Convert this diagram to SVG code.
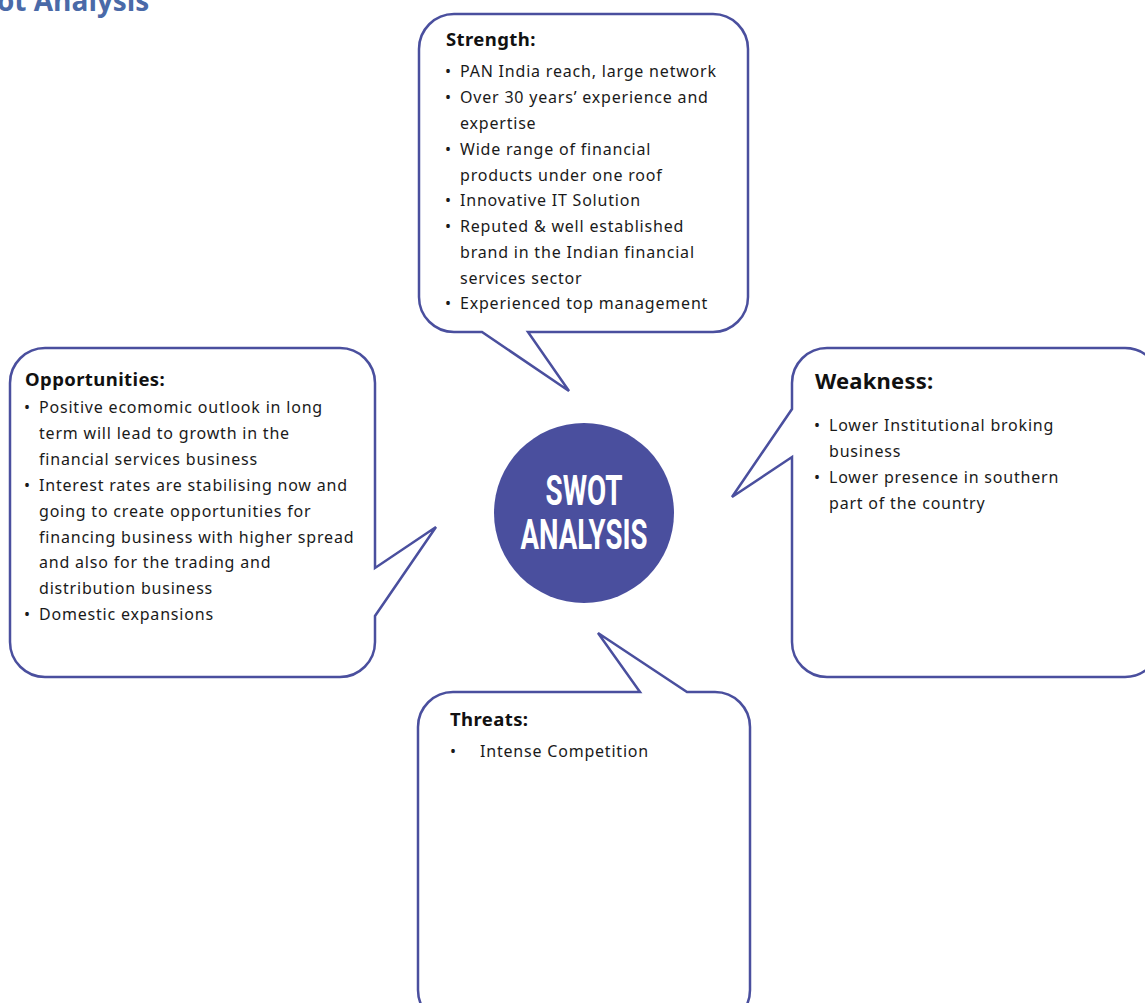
<svg xmlns="http://www.w3.org/2000/svg" width="1145" height="1003" viewBox="0 0 1145 1003">
<style>
.callout{fill:#fff;stroke:#4a4f9e;stroke-width:2.5;stroke-linejoin:miter}
.hd{font-family:"Noto Sans","Open Sans",sans-serif;font-weight:bold;font-size:18.5px;fill:#111;letter-spacing:0.4px}
.tx{font-family:"Noto Sans","Open Sans",sans-serif;font-size:16px;fill:#1a1a1a;letter-spacing:0.8px}
.title{font-family:"Open Sans","Noto Sans",sans-serif;font-weight:bold;font-size:28px;fill:#4a6aa8}
.swot{font-family:Roboto,"Liberation Sans",sans-serif;font-weight:bold;font-size:42px;fill:#fff}
</style>
<rect width="1145" height="1003" fill="#fff"/>
<text class="title" x="-3" y="11">ot Analysis</text>
<g id="connectors"></g>
<g id="strength">
<path class="callout" d="M454,14 H713 A35,35 0 0 1 748,49 V297 A35,35 0 0 1 713,332 H528 L569,391 L482,332 H454 A35,35 0 0 1 419,297 V49 A35,35 0 0 1 454,14 Z"/>
<text class="hd" x="446" y="46">Strength:</text>
<g class="tx">
<text x="445" y="77">•</text><text x="460" y="77">PAN India reach, large network</text>
<text x="445" y="103">•</text><text x="460" y="103">Over 30 years’ experience and</text>
<text x="460" y="129">expertise</text>
<text x="445" y="155">•</text><text x="460" y="155">Wide range of financial</text>
<text x="460" y="181">products under one roof</text>
<text x="445" y="206">•</text><text x="460" y="206">Innovative IT Solution</text>
<text x="445" y="232">•</text><text x="460" y="232">Reputed &amp; well established</text>
<text x="460" y="258">brand in the Indian financial</text>
<text x="460" y="284">services sector</text>
<text x="445" y="309">•</text><text x="460" y="309">Experienced top management</text>
</g>
</g>
<g id="opportunities">
<path class="callout" d="M45,348 H340 A35,35 0 0 1 375,383 V568 L436,527 L375,616 V642 A35,35 0 0 1 340,677 H45 A35,35 0 0 1 10,642 V383 A35,35 0 0 1 45,348 Z"/>
<text class="hd" x="25" y="386">Opportunities:</text>
<g class="tx">
<text x="24" y="413">•</text><text x="39" y="413">Positive ecomomic outlook in long</text>
<text x="39" y="439">term will lead to growth in the</text>
<text x="39" y="465">financial services business</text>
<text x="24" y="491">•</text><text x="39" y="491">Interest rates are stabilising now and</text>
<text x="39" y="517">going to create opportunities for</text>
<text x="39" y="543">financing business with higher spread</text>
<text x="39" y="568">and also for the trading and</text>
<text x="39" y="594">distribution business</text>
<text x="24" y="620">•</text><text x="39" y="620">Domestic expansions</text>
</g>
</g>
<g id="weakness">
<path class="callout" d="M827,348 H1125 A35,35 0 0 1 1160,383 V642 A35,35 0 0 1 1125,677 H827 A35,35 0 0 1 792,642 V457 L732,497 L792,409 V383 A35,35 0 0 1 827,348 Z"/>
<text class="hd" x="815" y="389" style="font-size:22px;letter-spacing:0.2px">Weakness:</text>
<g class="tx">
<text x="814" y="431">•</text><text x="829" y="431">Lower Institutional broking</text>
<text x="829" y="457">business</text>
<text x="814" y="483">•</text><text x="829" y="483">Lower presence in southern</text>
<text x="829" y="509">part of the country</text>
</g>
</g>
<g id="threats">
<path class="callout" d="M453,692 H640 L598,633 L687,692 H715 A35,35 0 0 1 750,727 V990 A35,35 0 0 1 715,1025 H453 A35,35 0 0 1 418,990 V727 A35,35 0 0 1 453,692 Z"/>
<text class="hd" x="450" y="726">Threats:</text>
<g class="tx">
<text x="450" y="757">•</text><text x="480" y="757">Intense Competition</text>
</g>
</g>
<g id="center">
<circle cx="584" cy="513" r="90" fill="#4a4f9e"/>
<text class="swot" x="584" y="505" text-anchor="middle" textLength="77" lengthAdjust="spacingAndGlyphs">SWOT</text>
<text class="swot" x="584" y="549" text-anchor="middle" textLength="127" lengthAdjust="spacingAndGlyphs">ANALYSIS</text>
</g>
</svg>
